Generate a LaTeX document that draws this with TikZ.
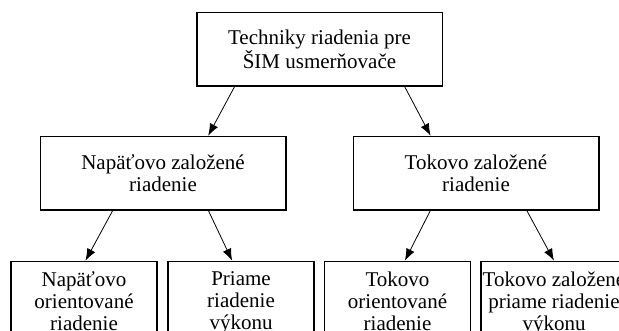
\documentclass[tikz,border=0pt]{standalone}
\usepackage{fontspec}
\setmainfont{Liberation Serif}
\usetikzlibrary{positioning,calc,arrows.meta}

\begin{document}
\begin{tikzpicture}[node distance=49pt,
    box/.style={draw,line width=1.5pt,align=center,minimum width=245.5pt,
      minimum height=73.5pt,inner sep=1pt,font=\fontsize{21}{22}\selectfont},
    leaf/.style={box,minimum width=146pt,minimum height=0pt,inner ysep=10pt},
    arr/.style={line width=0.8pt,-{Latex[length=12pt,width=9pt]}}]
    \useasboundingbox (0,0) rectangle (619pt,-331pt);
    \clip (0,0) rectangle (619pt,-331pt);

    \node[box] (tech) at (319.5pt,-49.2pt) {Techniky riadenia pre\\ŠIM usmerňovače};
    \node[box] (nap)  [below=of tech,xshift=-156.5pt] {Napäťovo založené\\riadenie};
    \node[box] (tok)  [below=of tech,xshift=156.5pt]  {Tokovo založené\\riadenie};

    \node[leaf] (napor) [below=50pt of nap,xshift=-79pt]  {Napäťovo\\orientované\\riadenie};
    \node[leaf] (napvy) [below=50pt of nap,xshift=78pt]   {Priame\\riadenie\\výkonu};
    \node[leaf] (tokor) [below=50pt of tok,xshift=-78.5pt] {Tokovo\\orientované\\riadenie};
    \node[leaf] (tokvy) [below=50pt of tok,xshift=78pt]   {Tokovo založené\\priame riadenie\\výkonu};

    \draw[arr] ($(tech.south west)!.156!(tech.south east)$) -- ($(nap.north west)!.683!(nap.north east)$);
    \draw[arr] ($(tech.south west)!.845!(tech.south east)$) -- ($(tok.north west)!.316!(tok.north east)$);
    \draw[arr] ($(nap.south west)!.296!(nap.south east)$) -- ($(napor.north west)!.51!(napor.north east)$);
    \draw[arr] ($(nap.south west)!.684!(nap.south east)$) -- ($(napvy.north west)!.44!(napvy.north east)$);
    \draw[arr] ($(tok.south west)!.315!(tok.south east)$) -- ($(tokor.north west)!.55!(tokor.north east)$);
    \draw[arr] ($(tok.south west)!.706!(tok.south east)$) -- ($(tokvy.north west)!.5!(tokvy.north east)$);
\end{tikzpicture}
\end{document}
